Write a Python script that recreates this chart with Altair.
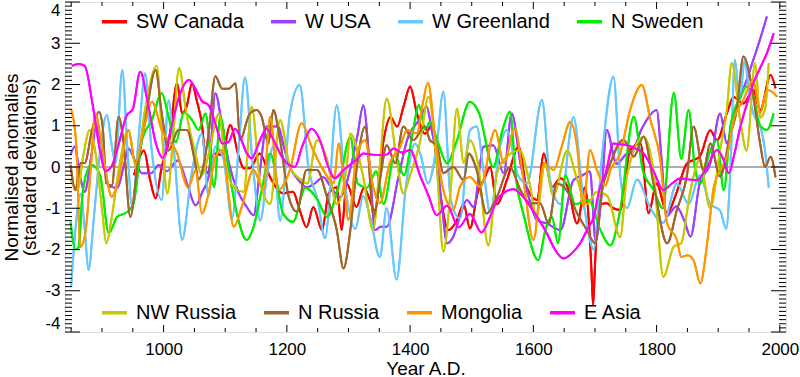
import altair as alt
import pandas as pd

# ---------------- data (year, normalised anomaly) ----------------
sw_canada = [(952,-0.2),(960,0.2),(968,0.4),(978,-0.3),(987,-0.76),(997,0.0),(1009,0.65),(1022,2.03),(1030,1.3),(1038,1.5),(1046,2.03),(1054,1.6),(1062,1.06),(1071,-0.15),(1082,0.33),(1095,0.29),(1108,1.02),(1122,0.25),(1130,-0.03),(1140,-0.03),(1156,0.33),(1173,-0.25),(1194,-0.64),(1210,-0.6),(1220,-1.0),(1232,-1.46),(1243,-0.97),(1257,-1.53),(1268,-0.64),(1281,-0.49),(1289,-1.53),(1297,-0.4),(1313,-0.97),(1325,-0.5),(1343,-1.05),(1357,0.65),(1368,1.21),(1379,0.98),(1390,1.5),(1400,1.95),(1411,1.3),(1424,0.81),(1435,1.0),(1448,-0.56),(1462,-1.53),(1476,-1.29),(1487,-0.9),(1497,-1.49),(1510,-0.6),(1520,-0.3),(1530,0.0),(1541,-0.9),(1557,-0.32),(1576,0.49),(1589,-0.49),(1606,-0.8),(1617,0.33),(1630,-0.49),(1644,-0.27),(1656,-0.5),(1671,-1.37),(1684,-0.49),(1690,-1.3),(1694,-2.4),(1697,-3.35),(1700,-2.4),(1704,-1.3),(1710,-0.9),(1719,-0.88),(1730,-1.0),(1741,-1.04),(1757,0.41),(1774,0.57),(1787,-1.12),(1800,-0.4),(1817,-1.12),(1832,-0.64),(1849,0.08),(1870,0.25),(1887,0.89),(1898,0.65),(1914,1.3),(1925,1.7),(1941,1.54),(1957,1.87),(1968,1.38),(1985,2.23),(1993,1.91)]

w_usa = [(849,0.3),(856,0.5),(864,-0.2),(872,-0.6),(882,0.2),(891,1.0),(901,0.3),(911,-0.47),(925,-0.5),(935,0.0),(943,0.45),(955,0.1),(965,-0.15),(980,-0.15),(992,0.05),(1005,-0.1),(1023,0.16),(1038,-0.4),(1052,-0.93),(1063,-0.6),(1073,-0.24),(1084,1.79),(1095,1.0),(1106,0.09),(1122,-0.64),(1135,-0.97),(1146,-1.17),(1157,0.0),(1167,0.98),(1186,0.98),(1195,0.5),(1205,0.0),(1218,-0.3),(1232,-0.49),(1245,-0.4),(1259,-0.25),(1272,-0.5),(1286,-0.73),(1305,0.08),(1315,0.8),(1324,1.5),(1335,-0.07),(1343,-1.53),(1352,-1.45),(1362,-1.45),(1381,-0.25),(1395,0.65),(1414,1.13),(1427,1.46),(1435,0.9),(1443,0.25),(1452,-1.0),(1460,-1.85),(1470,-1.69),(1481,-1.2),(1492,-0.8),(1503,-0.97),(1519,0.49),(1535,0.53),(1552,-0.15),(1565,1.3),(1579,0.09),(1592,-0.7),(1606,-1.29),(1622,-1.37),(1644,-1.53),(1665,-0.32),(1680,-0.2),(1692,-0.11),(1701,-1.8),(1710,-0.8),(1719,0.9),(1735,0.08),(1750,0.3),(1762,0.4),(1775,0.9),(1784,1.14),(1800,1.38),(1808,0.2),(1816,-1.2),(1832,-0.96),(1845,-1.3),(1855,-1.69),(1870,-0.39),(1887,0.08),(1903,1.3),(1914,0.57),(1925,1.2),(1936,1.7),(1946,2.1),(1957,2.6),(1968,3.1),(1979,3.65)]

w_greenland = [(850,-2.9),(857,-1.5),(865,-0.65),(872,-1.5),(878,-2.5),(887,-1.2),(897,0.41),(908,1.26),(915,0.6),(922,0.1),(933,2.35),(941,0.5),(949,-0.97),(960,0.8),(970,2.27),(980,0.5),(997,-0.8),(1008,1.62),(1018,0.2),(1030,-1.77),(1045,-0.2),(1062,0.8),(1073,-0.7),(1084,0.5),(1097,0.2),(1111,-1.25),(1122,0.5),(1132,2.17),(1145,0.0),(1157,-1.3),(1167,-0.3),(1178,0.5),(1189,-1.3),(1205,1.3),(1221,1.99),(1235,0.0),(1250,-0.8),(1262,-1.73),(1281,1.5),(1295,-0.5),(1311,-1.5),(1324,-0.7),(1335,-1.2),(1351,-2.18),(1362,-1.0),(1378,-2.73),(1393,-0.5),(1408,0.57),(1417,0.3),(1429,-0.4),(1443,0.5),(1454,1.83),(1466,-0.8),(1481,-1.25),(1497,0.89),(1508,0.98),(1520,-0.2),(1530,-1.1),(1546,0.5),(1557,0.9),(1575,-0.2),(1590,-0.4),(1614,1.63),(1627,-0.3),(1644,-0.9),(1665,1.21),(1682,-0.9),(1698,-2.0),(1711,0.2),(1730,2.19),(1741,-0.2),(1752,-1.0),(1768,-0.3),(1790,-1.0),(1811,-1.35),(1833,-0.4),(1852,-0.9),(1870,-0.2),(1887,-0.9),(1903,-1.05),(1913,-1.5),(1920,0.0),(1927,2.6),(1935,1.6),(1943,2.6),(1950,1.8),(1957,1.3),(1968,1.0),(1975,0.5),(1982,-0.5)]

n_sweden = [(849,-1.33),(857,-2.0),(862,-1.95),(868,-0.72),(876,-0.1),(884,0.05),(897,-0.2),(911,-1.6),(925,-1.2),(940,-1.1),(951,-0.9),(965,0.65),(981,1.14),(997,1.79),(1008,1.22),(1020,0.6),(1033,1.33),(1046,1.14),(1057,0.9),(1068,1.3),(1082,-0.49),(1092,1.22),(1105,0.0),(1120,-1.2),(1135,-1.77),(1145,-1.5),(1160,-0.5),(1173,0.33),(1194,-1.13),(1210,-1.33),(1230,-0.5),(1250,-0.8),(1265,-1.21),(1285,-0.4),(1303,0.73),(1315,-0.4),(1330,-0.5),(1345,-0.1),(1357,-0.9),(1375,0.3),(1390,-0.2),(1405,0.9),(1414,1.5),(1425,0.9),(1432,1.1),(1445,0.6),(1460,0.09),(1475,0.6),(1497,1.58),(1512,1.3),(1535,0.0),(1550,0.9),(1562,1.34),(1572,-0.3),(1585,-1.2),(1608,-2.26),(1620,-1.5),(1630,-1.2),(1640,-1.85),(1652,-0.2),(1668,-0.9),(1690,-0.8),(1708,-1.5),(1725,-1.9),(1741,-1.04),(1763,1.22),(1778,-0.1),(1795,-0.55),(1810,-1.0),(1828,1.8),(1840,0.2),(1852,1.38),(1862,0.0),(1871,-0.4),(1887,0.4),(1898,0.65),(1909,-0.56),(1920,1.0),(1936,1.7),(1946,1.95),(1957,1.7),(1968,1.0),(1979,0.9),(1990,1.3)]

nw_russia = [(849,-0.3),(860,-0.56),(870,0.3),(880,0.9),(890,0.3),(900,-1.0),(907,-1.85),(915,-1.3),(928,0.0),(943,0.9),(955,0.0),(970,1.4),(989,2.45),(997,0.9),(1006,-0.64),(1015,0.6),(1025,2.4),(1037,1.3),(1052,0.3),(1062,-0.2),(1073,0.3),(1090,1.3),(1100,0.1),(1115,-0.5),(1130,-0.6),(1143,1.46),(1157,-0.4),(1173,-0.89),(1189,1.14),(1205,0.0),(1222,-0.3),(1233,-0.4),(1249,0.65),(1265,0.2),(1281,-0.9),(1297,0.0),(1303,0.81),(1324,-0.25),(1340,-1.53),(1350,-0.1),(1362,1.66),(1378,0.2),(1389,-0.64),(1400,-0.2),(1416,0.6),(1430,1.7),(1443,0.1),(1454,-2.05),(1465,-0.7),(1476,1.41),(1487,0.1),(1497,0.65),(1510,0.1),(1527,-1.9),(1541,-0.15),(1557,0.25),(1578,0.4),(1594,-0.4),(1605,-1.2),(1619,0.1),(1632,-0.7),(1655,0.4),(1671,-0.3),(1687,-0.9),(1703,-0.6),(1720,-0.7),(1741,-1.7),(1752,-0.2),(1779,0.73),(1795,-0.1),(1811,-2.66),(1828,-1.93),(1840,-1.85),(1854,-0.64),(1870,0.17),(1887,-1.0),(1903,0.4),(1914,1.4),(1922,2.52),(1936,1.1),(1946,0.4),(1960,2.52),(1968,1.2),(1976,1.4),(1982,2.52)]

n_russia = [(849,0.05),(857,-0.56),(865,0.1),(872,0.1),(884,0.9),(895,1.34),(901,1.0),(907,-0.39),(916,-0.45),(927,1.22),(935,0.6),(946,-1.21),(958,0.1),(970,1.1),(987,2.35),(997,1.3),(1008,0.4),(1024,0.9),(1038,0.9),(1050,0.2),(1057,-0.3),(1073,0.8),(1084,2.2),(1095,1.9),(1106,1.9),(1117,2.03),(1124,0.65),(1140,1.3),(1151,1.38),(1159,1.22),(1170,0.57),(1178,1.38),(1189,0.65),(1203,-0.72),(1216,-1.08),(1232,-0.07),(1249,-0.07),(1265,-0.72),(1281,-1.53),(1292,-2.46),(1303,-1.53),(1313,-0.07),(1327,0.98),(1341,-1.2),(1351,-0.32),(1362,0.53),(1376,0.09),(1389,0.98),(1405,0.65),(1424,0.98),(1432,0.65),(1443,0.53),(1454,-0.15),(1470,0.0),(1487,-0.32),(1495,0.33),(1508,-0.07),(1524,-1.13),(1541,-0.72),(1562,0.0),(1579,-0.56),(1595,-0.88),(1611,-0.88),(1625,-1.37),(1638,-0.4),(1654,-0.56),(1671,-1.12),(1687,-1.53),(1700,-1.85),(1711,-0.6),(1725,0.09),(1746,0.66),(1763,0.25),(1779,0.74),(1795,-0.4),(1817,-1.85),(1833,-1.04),(1849,-0.23),(1860,0.98),(1876,-0.07),(1887,0.57),(1903,-0.23),(1919,0.74),(1930,1.38),(1941,2.68),(1957,1.71),(1968,0.57),(1976,0.0),(1985,0.25),(1993,-0.25)]

mongolia = [(850,1.4),(858,0.6),(865,-1.94),(873,-1.6),(882,0.0),(889,1.3),(900,0.5),(916,-0.72),(927,-0.3),(943,0.9),(954,0.1),(970,1.06),(981,1.58),(997,0.9),(1022,0.33),(1040,-0.5),(1052,-0.07),(1062,-1.13),(1073,-0.64),(1084,0.25),(1095,0.41),(1114,-1.45),(1127,-0.96),(1146,-0.07),(1162,-0.56),(1173,1.22),(1186,-0.56),(1205,-0.07),(1224,1.06),(1240,0.5),(1259,-0.07),(1276,-0.4),(1284,0.57),(1292,-0.3),(1300,-1.28),(1313,0.25),(1327,0.65),(1340,-0.48),(1351,-0.88),(1367,0.09),(1384,0.49),(1395,0.9),(1411,0.82),(1420,1.5),(1429,2.04),(1441,0.66),(1454,-0.56),(1470,-1.04),(1481,-0.48),(1497,-0.24),(1514,-0.48),(1538,0.9),(1552,0.09),(1570,0.94),(1584,-0.32),(1600,-1.77),(1617,0.09),(1633,-0.07),(1646,0.49),(1660,1.1),(1671,0.49),(1681,-0.96),(1692,0.41),(1703,-0.07),(1717,-0.45),(1725,-0.07),(1741,0.33),(1757,1.38),(1776,1.99),(1790,1.14),(1806,0.17),(1817,-1.37),(1833,-1.77),(1840,-2.18),(1850,-2.14),(1860,-2.26),(1871,-2.82),(1882,-1.85),(1892,-0.56),(1903,-0.07),(1914,0.25),(1925,1.14),(1941,1.63),(1957,2.11),(1968,1.3),(1979,1.87),(1990,1.79),(1996,1.7)]

e_asia = [(851,2.45),(862,2.5),(872,2.45),(885,1.5),(898,0.3),(905,-0.1),(915,0.0),(928,0.6),(940,1.25),(950,1.4),(962,2.31),(975,1.5),(987,0.6),(999,0.22),(1010,0.8),(1025,1.7),(1041,2.11),(1055,1.8),(1062,1.6),(1073,1.5),(1085,1.0),(1095,0.57),(1105,0.6),(1116,0.93),(1124,0.74),(1135,0.33),(1143,0.21),(1155,0.6),(1167,0.93),(1180,0.6),(1190,0.3),(1200,0.09),(1213,0.0),(1225,0.5),(1240,0.93),(1255,0.6),(1265,0.1),(1278,-0.27),(1290,-0.1),(1302,0.05),(1315,0.2),(1324,0.33),(1338,0.3),(1351,0.29),(1362,0.3),(1373,0.45),(1387,0.35),(1400,0.41),(1416,-0.2),(1430,-0.7),(1443,-1.17),(1460,-0.94),(1479,-1.46),(1497,-1.14),(1516,-1.59),(1530,-1.2),(1541,-0.8),(1555,-0.6),(1568,-0.54),(1582,-0.7),(1595,-0.96),(1610,-1.3),(1622,-1.61),(1635,-2.0),(1649,-2.22),(1662,-2.1),(1676,-1.85),(1688,-1.5),(1698,-1.21),(1708,-0.5),(1717,-0.17),(1730,0.57),(1741,0.55),(1752,0.53),(1765,0.45),(1779,0.33),(1795,-0.1),(1811,-0.56),(1825,-0.4),(1838,-0.28),(1852,-0.3),(1865,-0.32),(1882,0.0),(1898,0.41),(1908,0.2),(1917,-0.15),(1926,0.3),(1936,0.98),(1946,1.5),(1957,2.03),(1968,2.4),(1979,2.76),(1990,3.24)]

series_names = ["SW Canada", "W USA", "W Greenland", "N Sweden",
                "NW Russia", "N Russia", "Mongolia", "E Asia"]
series_colors = ["#FF0000", "#A040FF", "#66C8FF", "#00EE00",
                 "#C8C800", "#A0642D", "#FF9600", "#FF00FF"]
series_points = [sw_canada, w_usa, w_greenland, n_sweden,
                 nw_russia, n_russia, mongolia, e_asia]

x_label_values = [1000, 1200, 1400, 1600, 1800, 2000]
x_minor_ticks = [850, 900, 950, 1050, 1100, 1150, 1250, 1300, 1350, 1450, 1500,
                 1550, 1650, 1700, 1750, 1850, 1900, 1950]
y_label_values = [-4, -3, -2, -1, 0, 1, 2, 3, 4]
y_minor_ticks = [round(-4 + 0.1 * i, 1) for i in range(81) if i % 10 != 0]

rows = []
for name, pts in zip(series_names, series_points):
    for yr, v in pts:
        rows.append({"series": name, "year": yr, "value": v})
df = pd.DataFrame(rows)

# ---------------- layout ----------------
W, H = 721, 330
FONT = "Liberation Sans"

x_scale = alt.Scale(domain=[840, 2010], nice=False, zero=False)
y_scale = alt.Scale(domain=[-4, 4], nice=False, zero=False)

x_axis = alt.Axis(values=x_label_values, format="d", title="Year A.D.",
                  labelFont=FONT, labelFontSize=17, labelColor="black", labelPadding=9,
                  ticks=False, domain=False, grid=False,
                  titleFont=FONT, titleFontSize=19, titleFontWeight="normal",
                  titleColor="black", titleY=42, titleBaseline="alphabetic")
y_axis = alt.Axis(values=y_label_values, title=["Normalised anomalies", "(standard deviations)"],
                  labelFont=FONT, labelFontSize=17, labelColor="black", labelPadding=5,
                  labelFlush=True, labelExpr="replace(datum.label, '\u2212', '-')",
                  ticks=False, domain=False, grid=False,
                  titleFont=FONT, titleFontSize=19, titleFontWeight="normal",
                  titleColor="black", titleAngle=270, titleX=-63, titleY=H / 2,
                  titleAlign="center", titleBaseline="top", titleLineHeight=18)


def X():
    return alt.X("year:Q", scale=x_scale, axis=x_axis)


def Y():
    return alt.Y("value:Q", scale=y_scale, axis=y_axis)


def legend(ypos):
    return alt.Legend(title=None, orient="none", legendX=35, legendY=ypos,
                      direction="horizontal", symbolType="stroke", symbolSize=625,
                      symbolStrokeWidth=3.5, labelFont=FONT, labelFontSize=20,
                      labelColor="black", labelOffset=7, columnPadding=20,
                      padding=0, labelLimit=400)


layers = []

# zero line
layers.append(alt.Chart(pd.DataFrame({"value": [0]})).mark_rule(color="#606060", strokeWidth=1).encode(y=Y()))

# legend-carrying layers (top row and bottom row)
top_names, top_colors = series_names[:4], series_colors[:4]
bot_names, bot_colors = series_names[4:], series_colors[4:]
layers.append(
    alt.Chart(df).transform_filter(alt.FieldOneOfPredicate(field="series", oneOf=top_names))
    .mark_line(interpolate="monotone", strokeWidth=2)
    .encode(x=X(), y=Y(),
            color=alt.Color("series:N", scale=alt.Scale(domain=top_names, range=top_colors),
                            legend=legend(5)))
)
layers.append(
    alt.Chart(df).transform_filter(alt.FieldOneOfPredicate(field="series", oneOf=bot_names))
    .mark_line(interpolate="monotone", strokeWidth=2)
    .encode(x=X(), y=Y(),
            color=alt.Color("series:N", scale=alt.Scale(domain=bot_names, range=bot_colors),
                            legend=legend(296)))
)

# each series drawn in order on top
for name, col in zip(series_names, series_colors):
    layers.append(
        alt.Chart(df).transform_filter(alt.datum.series == name)
        .mark_line(interpolate="monotone", strokeWidth=2, color=col)
        .encode(x=X(), y=Y())
    )

# inward ticks
ymaj = pd.DataFrame({"value": y_label_values})
ymin = pd.DataFrame({"value": y_minor_ticks})
xmaj = pd.DataFrame({"year": x_label_values})
xmin = pd.DataFrame({"year": x_minor_ticks})
tick = dict(color="black", strokeWidth=1)
layers += [
    alt.Chart(ymaj).mark_rule(**tick).encode(y=Y(), x=alt.value(0), x2=alt.value(15)),
    alt.Chart(ymin).mark_rule(**tick).encode(y=Y(), x=alt.value(0), x2=alt.value(7)),
    alt.Chart(ymaj).mark_rule(**tick).encode(y=Y(), x=alt.value(W - 15), x2=alt.value(W)),
    alt.Chart(ymin).mark_rule(**tick).encode(y=Y(), x=alt.value(W - 7), x2=alt.value(W)),
    alt.Chart(xmaj).mark_rule(**tick).encode(x=X(), y=alt.value(H - 7), y2=alt.value(H)),
    alt.Chart(xmin).mark_rule(**tick).encode(x=X(), y=alt.value(H - 4), y2=alt.value(H)),
    alt.Chart(xmaj).mark_rule(**tick).encode(x=X(), y=alt.value(0), y2=alt.value(7)),
    alt.Chart(xmin).mark_rule(**tick).encode(x=X(), y=alt.value(0), y2=alt.value(4)),
]

chart = (
    alt.layer(*layers)
    .resolve_scale(color="independent")
    .properties(width=W, height=H,
                autosize=alt.AutoSizeParams(type="none"),
                padding={"left": 65, "top": 2, "right": 14, "bottom": 45})
    .configure_view(stroke="black", strokeWidth=1)
    .configure(background="white", font=FONT)
)

chart.save("out.html", embed_options={"renderer": "svg", "actions": False})
